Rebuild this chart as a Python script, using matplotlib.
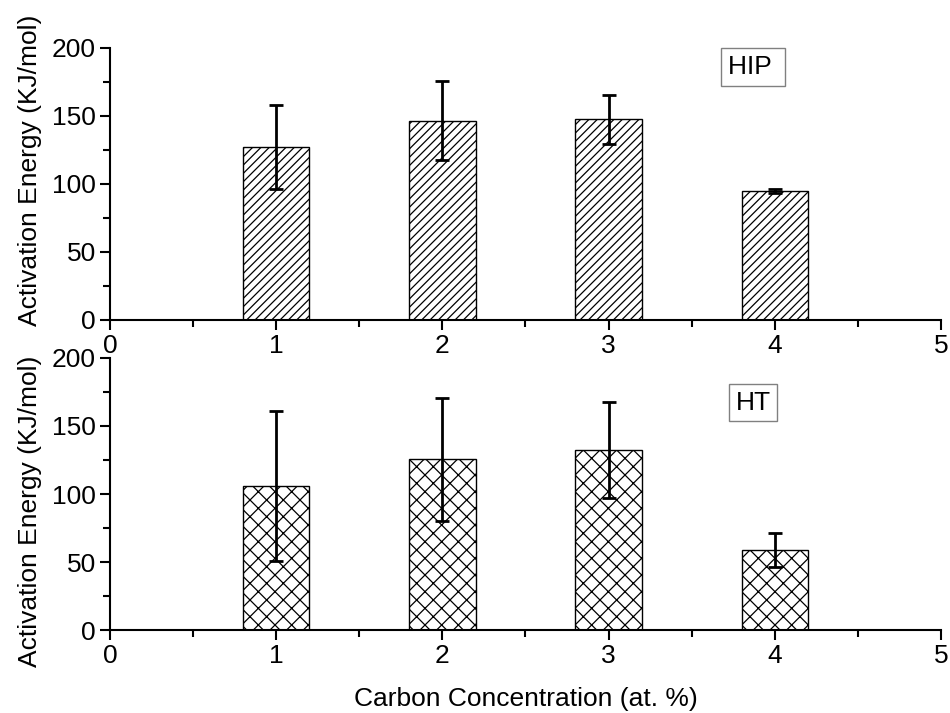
import matplotlib
matplotlib.use('Agg')
import matplotlib.pyplot as plt
from matplotlib.ticker import MultipleLocator

plt.rcParams['font.family'] = ['Liberation Sans', 'DejaVu Sans']
plt.rcParams['hatch.linewidth'] = 0.9

# Carbon concentration (at. %)
carbon = [1, 2, 3, 4]

# Activation energy (KJ/mol) and error for HIP samples
hip_energy = [127, 146.5, 147.5, 95]
hip_error = [31, 29, 18, 1.5]

# Activation energy (KJ/mol) and error for HT samples
ht_energy = [106, 125.5, 132.5, 58.5]
ht_error = [55, 45, 35.5, 12.5]

fig = plt.figure(figsize=(9.5, 7.13), dpi=100)
ax1 = fig.add_axes([0.1158, 0.5512, 0.8747, 0.3815])
ax2 = fig.add_axes([0.1158, 0.1164, 0.8747, 0.3815])

panels = [
    (ax1, hip_energy, hip_error, '////', 'HIP ', 186, 0.55),
    (ax2, ht_energy, ht_error, 'xx', 'HT', 167, 0.435),
]

for ax, energy, err, hatch, tag, tag_y, label_y in panels:
    ax.bar(carbon, energy, width=0.4, color='white', edgecolor='black',
           linewidth=1.0, hatch=hatch, zorder=2)
    ax.errorbar(carbon, energy, yerr=err, fmt='none', ecolor='black',
                elinewidth=2, capsize=5, capthick=2, zorder=3)

    ax.set_xlim(0, 5)
    ax.set_ylim(0, 200)
    ax.spines['top'].set_visible(False)
    ax.spines['right'].set_visible(False)
    ax.spines['left'].set_linewidth(1.5)
    ax.spines['bottom'].set_linewidth(1.5)

    ax.xaxis.set_major_locator(MultipleLocator(1))
    ax.xaxis.set_minor_locator(MultipleLocator(0.5))
    ax.yaxis.set_major_locator(MultipleLocator(50))
    ax.yaxis.set_minor_locator(MultipleLocator(25))
    ax.tick_params(which='major', direction='out', length=7, width=1.5,
                   labelsize=19, pad=3)
    ax.tick_params(which='minor', direction='out', length=5, width=1.5)

    ax.set_ylabel('Activation Energy (KJ/mol)', fontsize=19)
    ax.yaxis.set_label_coords(-0.082, label_y)

    ax.text(3.87, tag_y, tag, fontsize=19, ha='center', va='center',
            bbox=dict(boxstyle='square,pad=0.25', facecolor='white',
                      edgecolor='gray', linewidth=1.0))

ax2.set_xlabel('Carbon Concentration (at. %)', fontsize=19, labelpad=14)

fig.savefig('out.png', dpi=100)
